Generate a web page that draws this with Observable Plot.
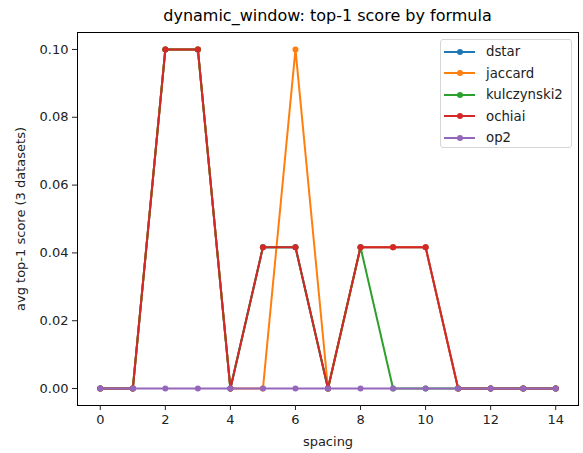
<!DOCTYPE html>
<html>
<head>
<meta charset="utf-8">
<script src="https://cdn.jsdelivr.net/npm/d3@7"></script>
<script src="https://cdn.jsdelivr.net/npm/@observablehq/plot@0.6"></script>
<style>
  body { margin: 0; background: #fff; font-family: "DejaVu Sans", sans-serif; }
  #wrap { position: relative; width: 583px; height: 453px; }
  #title { position: absolute; left: 77px; width: 501px; top: 6px; text-align: center; font-size: 16px; color: #000; }
  #legend { position: absolute; left: 440px; top: 39px; width: 132px; height: 109px; border: 1px solid #d6d6d6; border-radius: 3px; background: rgba(255,255,255,0.8); box-sizing: border-box; padding: 1px 0 0 3px; }
  .item { display: flex; align-items: center; height: 21.5px; font-size: 13.3px; color: #222; }
  .sw { position: relative; width: 31px; height: 10px; margin-right: 11px; }
  .sw .ln { position: absolute; left: 0; top: 4px; width: 31px; height: 2px; }
  .sw .dt { position: absolute; left: 12.5px; top: 2px; width: 6px; height: 6px; border-radius: 50%; }
</style>
</head>
<body>
<div id="wrap">
  <div id="title">dynamic_window: top-1 score by formula</div>
  <div id="chart"></div>
  <div id="legend"></div>
</div>
<script>
const spacing = [0,1,2,3,4,5,6,7,8,9,10,11,12,13,14];
const formulas = ["dstar", "jaccard", "kulczynski2", "ochiai", "op2"];
const colors = ["#1f77b4", "#ff7f0e", "#2ca02c", "#d62728", "#9467bd"];
const dstar       = [0,0,0.1,0.1,0,0.0417,0.0417,0,0.0417,0.0417,0.0417,0,0,0,0];
const jaccard     = [0,0,0.1,0.1,0,0,0.1,0,0.0417,0.0417,0.0417,0,0,0,0];
const kulczynski2 = [0,0,0.1,0.1,0,0.0417,0.0417,0,0.0417,0,0,0,0,0,0];
const ochiai      = [0,0,0.1,0.1,0,0.0417,0.0417,0,0.0417,0.0417,0.0417,0,0,0,0];
const op2         = [0,0,0,0,0,0,0,0,0,0,0,0,0,0,0];
const seriesValues = [dstar, jaccard, kulczynski2, ochiai, op2];
const xTicks = [0,2,4,6,8,10,12,14];
const yTicks = [0,0.02,0.04,0.06,0.08,0.10];

const data = [];
formulas.forEach((f, i) => spacing.forEach((s, j) => data.push({formula: f, spacing: s, score: seriesValues[i][j]})));

const marks = [Plot.frame({stroke: "#000", strokeWidth: 1})];
formulas.forEach((f, i) => {
  const d = data.filter(r => r.formula === f);
  marks.push(Plot.line(d, {x: "spacing", y: "score", stroke: colors[i], strokeWidth: 2}));
  marks.push(Plot.dot(d, {x: "spacing", y: "score", fill: colors[i], r: 3, stroke: "none"}));
});
marks.push(Plot.axisX({ticks: xTicks, tickFormat: d => String(d), tickSize: 5, tickPadding: 4, fontSize: 13, label: "spacing", labelAnchor: "center", labelArrow: "none", labelOffset: 40}));
marks.push(Plot.axisY({ticks: yTicks, tickFormat: d3.format(".2f"), tickSize: 5, tickPadding: 4, fontSize: 13, label: "avg top-1 score (3 datasets)", labelAnchor: "center", labelArrow: "none", labelOffset: 62}));

const chart = Plot.plot({
  width: 583,
  height: 453,
  marginLeft: 77,
  marginRight: 5,
  marginTop: 32,
  marginBottom: 48,
  style: {fontFamily: "DejaVu Sans, sans-serif", fontSize: "13px", color: "#222", background: "#fff", overflow: "visible"},
  x: {domain: [-0.7, 14.7]},
  y: {domain: [-0.005, 0.105]},
  marks
});
document.getElementById("chart").appendChild(chart);

const legend = document.getElementById("legend");
formulas.forEach((f, i) => {
  const it = document.createElement("div");
  it.className = "item";
  it.innerHTML = `<span class="sw"><span class="ln" style="background:${colors[i]}"></span><span class="dt" style="background:${colors[i]}"></span></span><span>${f}</span>`;
  legend.appendChild(it);
});
</script>
</body>
</html>
